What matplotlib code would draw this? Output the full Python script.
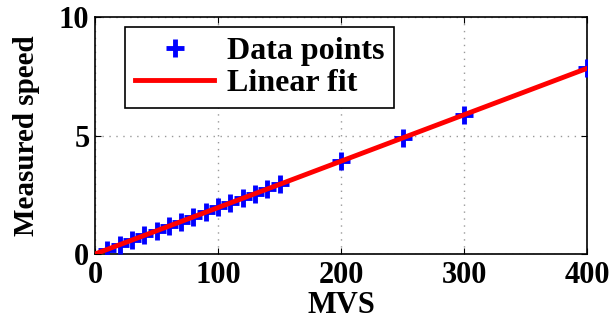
import numpy as np
import matplotlib
matplotlib.use("Agg")
import matplotlib.pyplot as plt

mvs = [10, 20, 30, 40, 50, 60, 70, 80, 90, 100, 110, 120, 130, 140, 150, 200, 250, 300, 400]
speed = [0.18, 0.40, 0.58, 0.79, 0.98, 1.18, 1.37, 1.58, 1.76, 1.97, 2.15, 2.36, 2.55, 2.75, 2.95,
         3.93, 4.91, 5.86, 7.83]
xticks = [0, 100, 200, 300, 400]
yticks = [0, 5, 10]

plt.rcParams['font.family'] = ['Liberation Serif', 'DejaVu Serif']
plt.rcParams['font.weight'] = 'bold'

fig = plt.figure(figsize=(6.13, 3.2), dpi=100)
ax = fig.add_axes([0.155, 0.206, 0.803, 0.741])

coef = np.polyfit(mvs, speed, 1)
xf = np.array([0, 400])
ax.plot(mvs, speed, '+', color='#0000ff', markersize=13, markeredgewidth=3.5, label='Data points', zorder=3)
ax.plot(xf, np.polyval(coef, xf), '-', color='#ff0000', linewidth=3.5, label='Linear fit', zorder=4)

ax.set_xlim(0, 400)
ax.set_ylim(0, 10)
ax.set_xticks(xticks)
ax.set_yticks(yticks)
ax.tick_params(direction='in', top=True, right=True, labelsize=22, length=4)
ax.tick_params(axis='x', pad=5)
ax.tick_params(axis='y', pad=4)
for lab in ax.get_xticklabels() + ax.get_yticklabels():
    lab.set_fontweight('bold')
ax.grid(True, linestyle=(0, (1, 4)), color='#999999', linewidth=1)
for s in ax.spines.values():
    s.set_linewidth(1.2)

ax.set_xlabel('MVS', fontsize=22, fontweight='bold', labelpad=1)
ax.set_ylabel('Measured speed', fontsize=21, fontweight='bold', labelpad=14)

leg = ax.legend(loc='upper left', bbox_to_anchor=(0.061, 0.958), prop={'size': 23, 'weight': 'bold'},
                fancybox=False, edgecolor='black', framealpha=1, handlelength=2.5,
                borderpad=0.3, labelspacing=0.1, handletextpad=0.4, borderaxespad=0)
leg.get_frame().set_linewidth(1.2)

fig.savefig('out.png', dpi=100)
